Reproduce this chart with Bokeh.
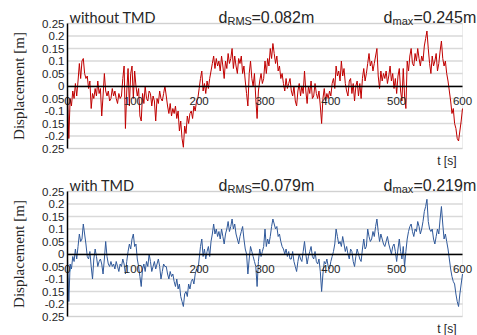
import numpy as np
from bokeh.plotting import figure
from bokeh.layouts import column
from bokeh.models import Range1d, FixedTicker, Label, LinearAxis, BoxAnnotation
from bokeh.embed import file_html
from bokeh.resources import INLINE

# ---- data (displacement every 2 s) ----
time_s = list(range(0, 601, 2))

disp_without_tmd = [
    -0.03, -0.21, -0.05, -0.08, -0.02, -0.05, 0.01, -0.04, 0.02, 0.09, 0.03, 0.10, 0.11, 0.05, 0.03,
    0.04, -0.01, 0.02, -0.09, -0.03, -0.05, -0.01, -0.04, 0.02, -0.03, -0.01, -0.12, -0.04, 0.05, -0.02,
    -0.04, -0.02, -0.06, -0.05, -0.01, -0.04, -0.02, -0.05, -0.07, -0.03, -0.05, -0.04, 0.03, 0.08, -0.17,
    -0.02, 0.07, -0.08, 0.05, 0.08, -0.05, 0.06, 0.00, -0.04, -0.01, -0.12, -0.14, -0.03, -0.07, 0.00,
    -0.05, -0.06, -0.02, -0.03, -0.08, -0.04, -0.06, -0.14, -0.05, -0.07, -0.02, -0.05, -0.06, -0.03, 0.00,
    -0.04, -0.08, -0.11, -0.07, -0.12, -0.09, -0.11, -0.08, -0.13, -0.10, -0.18, -0.14, -0.21, -0.245, -0.16,
    -0.19, -0.12, -0.15, -0.11, -0.10, -0.13, -0.08, -0.10, -0.06, -0.05, -0.01, 0.03, 0.06, -0.02, 0.01,
    -0.03, 0.02, -0.01, 0.03, 0.06, 0.09, 0.12, 0.07, 0.11, 0.08, 0.10, 0.06, 0.12, 0.08, 0.03,
    0.10, 0.07, 0.13, 0.09, 0.11, 0.15, 0.07, 0.12, 0.08, 0.05, 0.11, 0.09, 0.12, 0.05, 0.08,
    0.02, -0.03, -0.08, 0.05, 0.10, 0.03, 0.00, 0.05, -0.05, -0.13, -0.02, 0.02, 0.05, 0.01, 0.03,
    0.10, 0.05, 0.11, 0.08, 0.15, 0.11, 0.17, 0.13, 0.09, 0.12, 0.06, 0.08, 0.03, 0.05, 0.01,
    -0.02, 0.03, -0.01, 0.01, 0.03, -0.02, -0.04, 0.00, -0.06, -0.08, -0.02, 0.01, -0.04, 0.00, -0.03,
    0.06, -0.02, -0.07, 0.00, -0.03, 0.02, -0.05, -0.04, 0.01, -0.03, -0.05, -0.02, -0.08, -0.15, -0.05,
    -0.01, -0.06, -0.03, -0.05, -0.02, -0.04, 0.01, 0.03, -0.01, 0.08, 0.04, 0.06, 0.02, 0.10, 0.04,
    0.07, 0.01, -0.02, -0.04, 0.02, 0.03, -0.03, 0.01, -0.06, 0.00, 0.02, -0.04, 0.01, -0.05, 0.03,
    0.07, 0.02, 0.05, 0.09, 0.13, 0.08, 0.10, 0.06, 0.09, 0.12, 0.15, 0.04, -0.01, 0.06, 0.02,
    0.05, 0.03, 0.06, 0.01, 0.04, 0.08, 0.02, 0.05, -0.01, 0.03, -0.03, 0.04, 0.07, -0.02, -0.06,
    0.07, -0.04, -0.09, 0.10, 0.06, 0.12, 0.15, 0.09, 0.08, 0.13, 0.10, 0.15, 0.11, 0.08, 0.12,
    0.10, 0.16, 0.19, 0.22, 0.15, 0.09, 0.05, 0.12, 0.08, 0.10, 0.13, 0.06, 0.09, 0.14, 0.18,
    0.11, 0.08, 0.10, 0.05, 0.02, -0.02, -0.06, -0.11, -0.09, -0.15, -0.17, -0.21, -0.22, -0.18, -0.14,
    -0.09,
]

disp_with_tmd = [
    -0.02, -0.19, -0.04, -0.06, -0.01, -0.03, 0.02, -0.02, 0.03, 0.08, 0.05, 0.06, 0.12, 0.08, 0.04,
    -0.01, -0.02, 0.01, -0.05, -0.10, -0.02, 0.02, -0.01, -0.05, -0.03, -0.02, -0.04, -0.08, -0.02, 0.05,
    -0.01, -0.04, -0.05, -0.03, -0.05, -0.04, -0.06, -0.03, -0.05, -0.07, -0.04, -0.05, -0.02, -0.04, -0.08,
    -0.03, 0.01, 0.04, 0.02, 0.06, 0.08, 0.03, 0.04, -0.02, -0.05, -0.09, -0.13, -0.06, -0.04, -0.07,
    -0.03, -0.05, 0.00, -0.03, -0.07, -0.05, -0.03, -0.06, -0.04, -0.02, -0.05, -0.10, -0.07, -0.04, -0.05,
    -0.05, -0.08, -0.10, -0.07, -0.09, -0.08, -0.11, -0.13, -0.10, -0.14, -0.12, -0.17, -0.19, -0.21, -0.16,
    -0.15, -0.17, -0.12, -0.14, -0.11, -0.10, -0.12, -0.08, -0.06, -0.07, -0.02, 0.03, 0.06, -0.01, 0.02,
    -0.02, 0.01, 0.03, -0.01, 0.05, 0.08, 0.12, 0.08, 0.10, 0.07, 0.09, 0.06, 0.10, 0.07, 0.04,
    0.08, 0.10, 0.13, 0.09, 0.11, 0.14, 0.10, 0.12, 0.08, 0.06, 0.04, 0.07, 0.09, 0.11, 0.06,
    0.02, 0.00, -0.08, -0.02, 0.03, 0.01, -0.01, -0.03, -0.05, -0.13, -0.03, 0.02, -0.01, 0.01, 0.03,
    0.10, 0.03, 0.06, 0.04, 0.07, 0.11, 0.14, 0.12, 0.10, 0.11, 0.07, 0.08, 0.05, 0.03, 0.02,
    0.00, 0.02, -0.01, 0.01, -0.02, -0.02, 0.01, -0.03, -0.05, -0.07, -0.03, 0.00, -0.02, -0.03, 0.01,
    0.05, 0.00, -0.04, -0.01, 0.01, 0.03, -0.01, -0.02, 0.01, -0.03, -0.04, -0.02, -0.07, -0.15, -0.08,
    -0.03, -0.04, -0.02, -0.05, -0.06, -0.03, -0.01, 0.01, 0.04, 0.10, 0.07, 0.04, 0.05, 0.03, 0.07,
    0.04, 0.01, 0.03, 0.00, -0.02, 0.02, 0.01, -0.03, -0.05, -0.01, 0.02, 0.00, -0.02, -0.03, 0.02,
    0.06, 0.02, 0.03, 0.10, 0.07, 0.05, 0.06, 0.09, 0.07, 0.11, 0.14, 0.09, 0.05, 0.08, 0.06,
    0.04, 0.03, 0.05, 0.07, 0.04, 0.02, 0.00, 0.03, 0.04, 0.01, -0.03, 0.02, 0.06, 0.01, -0.02,
    0.03, -0.05, 0.01, 0.06, 0.09, 0.11, 0.12, 0.09, 0.07, 0.10, 0.09, 0.13, 0.11, 0.08, 0.10,
    0.13, 0.17, 0.19, 0.219, 0.13, 0.10, 0.09, 0.10, 0.06, 0.04, 0.07, 0.10, 0.08, 0.14, 0.19,
    0.12, 0.06, 0.08, 0.05, 0.02, -0.02, -0.06, -0.09, -0.11, -0.12, -0.16, -0.19, -0.21, -0.16, -0.12,
    -0.08,
]

x_ticks = [0, 100, 200, 300, 400, 500, 600]
y_ticks = [-0.25, -0.2, -0.15, -0.1, -0.05, 0.0, 0.05, 0.1, 0.15, 0.2, 0.25]
y_tick_labels = ["0.25", "-0.2", "0.15", "-0.1", "0.05", "0",
                 "0.05", "0.1", "0.15", "0.2", "0.25"]

panel_titles = ["without TMD", "with TMD"]
rms_values = ["0.082", "0.079"]
max_values = ["0.245", "0.219"]

T_MIN, T_MAX = 0, 600
D_MIN, D_MAX = -0.25, 0.25

SANS = "Liberation Sans"
TXT = "#262626"

W = 477
PLOT_L, PLOT_R = 67, 462          # plot area in pixels
PLOT_TOP_PAD = 23                 # px above the plot area


def make_panel(d, color, title, rms, dmax, height, bottom_pad):
    sx = (PLOT_R - PLOT_L) / (T_MAX - T_MIN)           # px per second
    area_h = height - PLOT_TOP_PAD - bottom_pad
    sy = area_h / (D_MAX - D_MIN)                       # px per metre
    xr = Range1d(T_MIN - PLOT_L / sx, T_MAX + (W - PLOT_R) / sx)
    yr = Range1d(D_MIN - bottom_pad / sy, D_MAX + PLOT_TOP_PAD / sy)

    p = figure(width=W, height=height, x_range=xr, y_range=yr,
               x_axis_location=None, y_axis_location=None,
               output_backend="svg", toolbar_location=None,
               min_border=0, outline_line_color=None)

    # plot-area frame (grey outline)
    p.add_layout(BoxAnnotation(left=T_MIN, right=T_MAX, bottom=D_MIN, top=D_MAX,
                               fill_alpha=0, line_color="#bfbfbf",
                               line_width=1, level="underlay"))

    # horizontal grid lines
    p.segment(x0=[T_MIN] * len(y_ticks), x1=[T_MAX] * len(y_ticks),
              y0=y_ticks, y1=y_ticks, line_color="#d9d9d9", line_width=1.5,
              level="underlay")

    p.line(time_s, d, line_color=color, line_width=1)

    # x axis crossing at 0
    xa = LinearAxis(fixed_location=0, bounds=(T_MIN, T_MAX),
                    ticker=FixedTicker(ticks=x_ticks))
    xa.axis_line_color = "black"
    xa.axis_line_width = 1.5
    xa.major_tick_line_color = None
    xa.minor_tick_line_color = None
    xa.major_tick_out = 0
    xa.major_label_standoff = 11
    xa.major_label_text_font = SANS
    xa.major_label_text_font_size = "11.5px"
    xa.major_label_text_color = TXT
    p.add_layout(xa, "below")

    ya = LinearAxis(fixed_location=T_MIN, bounds=(D_MIN, D_MAX),
                    ticker=FixedTicker(ticks=y_ticks))
    ya.major_label_overrides = {v: s for v, s in zip(y_ticks, y_tick_labels)}
    ya.axis_line_color = "black"
    ya.axis_line_width = 1.5
    ya.major_tick_line_color = None
    ya.minor_tick_line_color = None
    ya.major_tick_out = 0
    ya.major_label_standoff = 3
    ya.major_label_text_font = SANS
    ya.major_label_text_font_size = "11.5px"
    ya.major_label_text_color = TXT
    ya.axis_label = "Displacement [m]"
    ya.axis_label_text_font = "Liberation Serif"
    ya.axis_label_text_font_style = "normal"
    ya.axis_label_text_font_size = "15px"
    ya.axis_label_text_color = TXT
    ya.axis_label_standoff = 12
    p.add_layout(ya, "left")

    p.xgrid.visible = False
    p.ygrid.visible = False

    # headline texts above the plot area
    base = D_MAX + (PLOT_TOP_PAD - 17.3) / sy
    sub = D_MAX + (PLOT_TOP_PAD - 20.3) / sy
    x_rms = T_MIN + (218 - PLOT_L) / sx
    x_max = T_MIN + (383 - PLOT_L) / sx
    specs = [
        dict(x=T_MIN + 2 / sx, y=base, text=title, text_font="Lato", text_font_size="14.5px"),
        dict(x=x_rms, y=base, text="d", text_font=SANS, text_font_size="16px"),
        dict(x=x_rms, y=sub, x_offset=9, text="RMS", text_font=SANS, text_font_size="11px"),
        dict(x=x_rms, y=base, x_offset=33, text="=" + rms + "m", text_font=SANS, text_font_size="16px"),
        dict(x=x_max, y=base, text="d", text_font=SANS, text_font_size="16px"),
        dict(x=x_max, y=sub, x_offset=9, text="max", text_font=SANS, text_font_size="11px"),
        dict(x=x_max, y=base, x_offset=30, text="=" + dmax + "m", text_font=SANS, text_font_size="16px"),
    ]
    for s in specs:
        p.add_layout(Label(text_color=TXT, text_baseline="alphabetic", **s))

    # axis title for time, under the plot area at the right
    p.add_layout(Label(x=T_MAX, y=D_MIN - 12.5 / sy, x_offset=-6, text="t [s]",
                       text_align="right", text_baseline="alphabetic",
                       text_font=SANS, text_font_size="12px", text_color=TXT))
    return p


p1 = make_panel(disp_without_tmd, "#c00000", panel_titles[0],
                rms_values[0], max_values[0], 168, 20)
p2 = make_panel(disp_with_tmd, "#30599a", panel_titles[1],
                rms_values[1], max_values[1], 167, 19)

layout = column(p1, p2, spacing=0)
open("out.html", "w").write(file_html(layout, INLINE))
